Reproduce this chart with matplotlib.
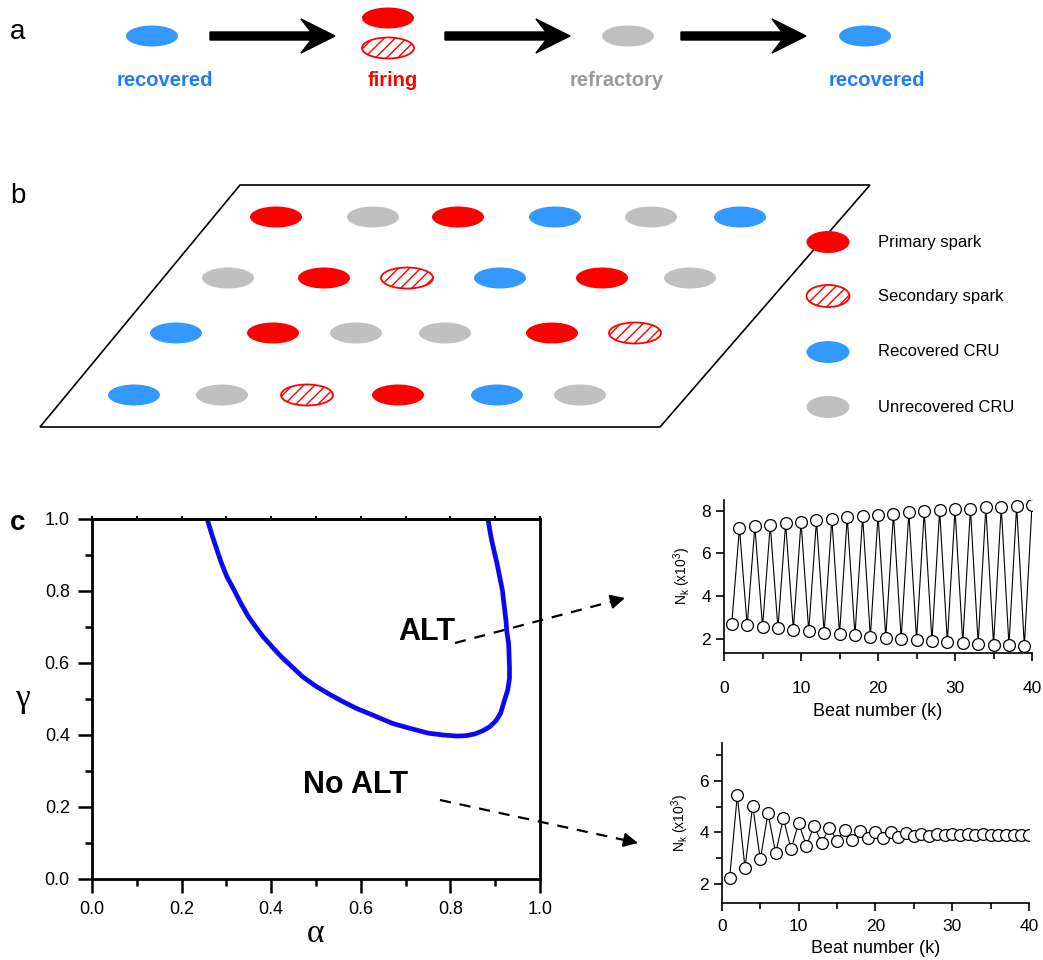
import numpy as np
import matplotlib
matplotlib.use("Agg")
import matplotlib.pyplot as plt
from matplotlib.patches import Ellipse, Polygon

plt.rcParams['font.family'] = ['Liberation Sans', 'DejaVu Sans']
plt.rcParams['hatch.linewidth'] = 1.0

RED = '#FF0000'
BLUE = '#3399FF'
GRAY = '#C0C0C0'

# ---- panel a: state cycle
cycle_labels = ['recovered', 'firing', 'refractory', 'recovered']
cycle_colors = ['#1E7BFF', '#FF0000', '#9A9A9A', '#1E7BFF']

# ---- panel b: CRU lattice (P = primary, S = secondary, R = recovered, U = unrecovered)
lattice_rows = [
    ['P', 'U', 'P', 'R', 'U', 'R'],
    ['U', 'P', 'S', 'R', 'P', 'U'],
    ['R', 'P', 'U', 'U', 'P', 'S'],
    ['R', 'U', 'S', 'P', 'R', 'U'],
]
legend_keys = ['P', 'S', 'R', 'U']
legend_names = ['Primary spark', 'Secondary spark', 'Recovered CRU', 'Unrecovered CRU']

# ---- panel c: ALT boundary in (alpha, gamma)
alpha_b = [0.257, 0.269, 0.289, 0.301, 0.317, 0.333, 0.349, 0.365, 0.382, 0.402,
           0.422, 0.446, 0.470, 0.498, 0.526, 0.558, 0.590, 0.631, 0.671, 0.711,
           0.751, 0.783, 0.815, 0.835, 0.855, 0.873, 0.888, 0.902, 0.912, 0.920,
           0.928, 0.932, 0.932, 0.931, 0.930, 0.926, 0.924, 0.920, 0.916, 0.910,
           0.904, 0.898, 0.892, 0.888, 0.884]
gamma_b = [1.000, 0.951, 0.877, 0.840, 0.803, 0.764, 0.729, 0.701, 0.673, 0.645,
           0.618, 0.590, 0.562, 0.537, 0.516, 0.494, 0.474, 0.453, 0.432, 0.418,
           0.405, 0.400, 0.397, 0.398, 0.403, 0.412, 0.423, 0.440, 0.460, 0.493,
           0.525, 0.557, 0.590, 0.622, 0.655, 0.687, 0.719, 0.761, 0.803, 0.840,
           0.877, 0.909, 0.942, 0.969, 1.000]

beats = list(range(1, 41))
nk_alt = [2.70, 7.20, 2.62, 7.27, 2.55, 7.33, 2.48, 7.40, 2.42, 7.47,
          2.35, 7.54, 2.28, 7.61, 2.22, 7.68, 2.16, 7.74, 2.10, 7.80,
          2.05, 7.86, 2.00, 7.92, 1.95, 7.97, 1.90, 8.02, 1.85, 8.06,
          1.80, 8.10, 1.76, 8.15, 1.72, 8.19, 1.69, 8.23, 1.66, 8.27]
nk_noalt = [2.23, 5.45, 2.62, 5.04, 2.95, 4.75, 3.18, 4.55, 3.35, 4.36,
            3.48, 4.25, 3.60, 4.17, 3.68, 4.10, 3.71, 4.06, 3.77, 4.03,
            3.80, 4.00, 3.82, 3.97, 3.84, 3.95, 3.87, 3.94, 3.88, 3.93,
            3.89, 3.92, 3.90, 3.92, 3.90, 3.91, 3.91, 3.91, 3.91, 3.91]

fig = plt.figure(figsize=(10.43, 9.6), dpi=100)


def cru(ax, key, x, y, w=52, h=21):
    if key == 'S':
        ax.add_patch(Ellipse((x, y), w, h, facecolor='white', edgecolor=RED,
                             hatch='///', lw=1.3))
    else:
        c = {'P': RED, 'R': BLUE, 'U': GRAY}[key]
        ax.add_patch(Ellipse((x, y), w, h, facecolor=c, edgecolor='none'))


def block_arrow(ax, x0, x1, y):
    xb, xn = x1 - 34, x1 - 24
    pts = [(x0, y - 4), (xn, y - 4), (xb, y - 17), (x1, y),
           (xb, y + 17), (xn, y + 4), (x0, y + 4)]
    ax.add_patch(Polygon(pts, closed=True, facecolor='black', edgecolor='black'))


# ---- panel c main axes
ax = fig.add_axes([0.0882, 0.0844, 0.4295, 0.375])
ax.plot(alpha_b, gamma_b, color='#0A0AF0', lw=3.4, solid_capstyle='butt')
ax.set_xlim(0, 1)
ax.set_ylim(0, 1)
ax.set_xticks(np.arange(0, 1.01, 0.2))
ax.set_yticks(np.arange(0, 1.01, 0.2))
ax.set_xticks(np.arange(0.1, 1.0, 0.2), minor=True)
ax.set_yticks(np.arange(0.1, 1.0, 0.2), minor=True)
ax.xaxis.set_major_formatter(matplotlib.ticker.FormatStrFormatter('%.1f'))
ax.yaxis.set_major_formatter(matplotlib.ticker.FormatStrFormatter('%.1f'))
ax.tick_params(which='major', direction='out', length=10, width=1.8, labelsize=13, pad=6)
ax.tick_params(which='minor', direction='out', length=5, width=1.8)
for s in ax.spines.values():
    s.set_linewidth(2)
top = ax.secondary_xaxis('top')
top.set_xticks(np.arange(0, 1.01, 0.1))
top.tick_params(direction='out', length=2.5, width=1.5, labeltop=False)
top.spines['top'].set_linewidth(2)
ax.set_xlabel('α', fontsize=24, family='Liberation Serif', labelpad=0)
ax.set_ylabel('γ', fontsize=24, family='Liberation Serif', rotation=0, va='center')
ax.yaxis.set_label_coords(-0.155, 0.5)
ax.text(0.747, 0.685, 'ALT', fontsize=22, fontweight='bold', ha='center', va='center')
ax.text(0.589, 0.26, 'No ALT', fontsize=22, fontweight='bold', ha='center', va='center')


def inset(rect, y, ylim, yt, xpad, lpad):
    a = fig.add_axes(rect)
    a.plot(beats, y, color='black', lw=0.8, marker='o', ms=8.5,
           mfc='white', mec='black', mew=0.9)
    a.set_xlim(0, 40)
    a.set_ylim(*ylim)
    a.set_xticks([0, 10, 20, 30, 40])
    a.set_xticks([5, 15, 25, 35], minor=True)
    a.set_yticks(yt)
    a.spines['top'].set_visible(False)
    a.spines['right'].set_visible(False)
    for s in ('left', 'bottom'):
        a.spines[s].set_linewidth(1.2)
    a.tick_params(which='major', direction='out', length=6, width=1.2, labelsize=12.5)
    a.tick_params(axis='x', pad=xpad)
    a.tick_params(which='minor', direction='out', length=4, width=1.2)
    a.set_xlabel('Beat number (k)', fontsize=13, labelpad=lpad)
    a.set_ylabel(r'N$_\mathregular{k}$ (x10$^\mathregular{3}$)', fontsize=10, labelpad=6)
    return a


ax1 = inset([0.6942, 0.3198, 0.2953, 0.1594], nk_alt, (1.33, 8.5), [2, 4, 6, 8], 14, 5)
ax2 = inset([0.6922, 0.0597, 0.2943, 0.166], nk_noalt, (1.26, 7.47), [2, 4, 6], 6, 4)
ax2.set_yticks([3, 5, 7], minor=True)

# ---- overlay in pixel coordinates for diagrams and arrows
ov = fig.add_axes([0, 0, 1, 1])
ov.set_xlim(0, 1043)
ov.set_ylim(960, 0)
ov.axis('off')
ov.set_zorder(10)
ov.patch.set_visible(False)

# panel a
ov.text(10, 32, 'a', fontsize=20, va='center')
cru(ov, 'R', 152, 36)
cru(ov, 'P', 388, 18)
cru(ov, 'S', 388, 48)
cru(ov, 'U', 628, 36)
cru(ov, 'R', 865, 36)
for x0, x1 in [(210, 335), (445, 570), (681, 806)]:
    block_arrow(ov, x0, x1, 36)
for x, lab, col in zip([165, 393, 617, 877], cycle_labels, cycle_colors):
    ov.text(x, 80, lab, color=col, fontsize=14.5, fontweight='bold', ha='center', va='center')

# panel b
ov.text(10, 196, 'b', fontsize=20, va='center')
ov.add_patch(Polygon([(240, 185), (870, 185), (660, 427), (40, 427)], closed=True,
                     facecolor='none', edgecolor='black', lw=1.2))
row_y = [217, 278, 333, 395]
row_x = [[276, 373, 458, 555, 651, 740],
         [228, 324, 407, 500, 602, 690],
         [176, 273, 356, 445, 552, 635],
         [134, 222, 307, 398, 497, 580]]
for keys, xs, y in zip(lattice_rows, row_x, row_y):
    for k, x in zip(keys, xs):
        cru(ov, k, x, y)
for k, name, y in zip(legend_keys, legend_names, [242, 296, 352, 407]):
    cru(ov, k, 828, y, w=43, h=22)
    ov.text(878, y, name, fontsize=12, va='center')

# panel c label and dashed arrows
ov.text(10, 523, 'c', fontsize=20, fontweight='bold', va='center')
for (x0, y0), (x1, y1) in [((455, 643), (625, 598)), ((440, 800), (638, 843))]:
    d = np.hypot(x1 - x0, y1 - y0)
    ux, uy = (x1 - x0) / d, (y1 - y0) / d
    ov.plot([x0, x1 - 12 * ux], [y0, y1 - 12 * uy], color='black', lw=1.6,
            linestyle=(0, (5, 4)))
    ov.annotate('', xy=(x1, y1), xytext=(x1 - 14 * ux, y1 - 14 * uy),
                arrowprops=dict(arrowstyle='-|>,head_length=0.9,head_width=0.45',
                                color='black', lw=1.2, shrinkA=0, shrinkB=0))

fig.savefig('out.png', dpi=100)
